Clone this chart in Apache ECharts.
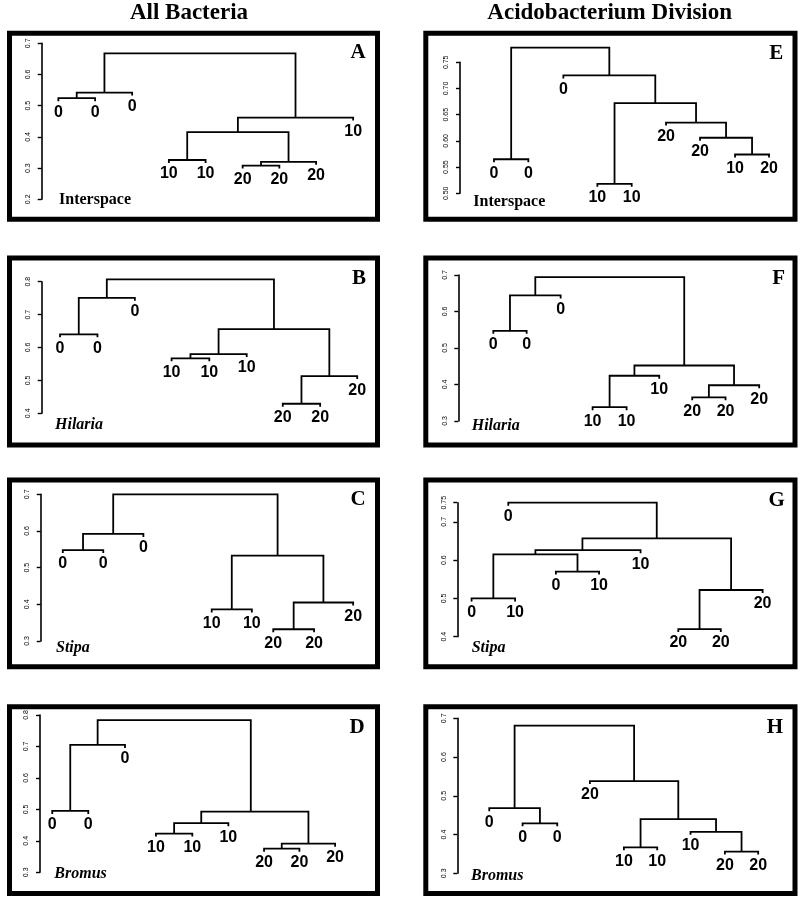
<!DOCTYPE html>
<html>
<head>
<meta charset="utf-8">
<title>Dendrograms</title>
<script src="https://cdn.jsdelivr.net/npm/echarts@6/dist/echarts.min.js"></script>
<style>
    html, body { margin: 0; padding: 0; background: #fff; }
    #main { width: 800px; height: 901px; }
</style>
</head>
<body>
<div id="main"></div>
<script>
// leaf labels, leaf positions (in leaf slots), merges [child1, child2, height, (x)]
// negative child = leaf number, positive child = earlier merge number
var leafNamesA = ['0', '0', '0', '10', '10', '20', '20', '20', '10'];
var leafPosA = [0.49, 1.57, 2.66, 3.74, 4.82, 5.91, 6.99, 8.07, 9.16];
var mergeA = [[-1, -2, 0.524], [1, -3, 0.542], [-4, -5, 0.326], [-6, -7, 0.308], [4, -8, 0.320], [3, 5, 0.415], [6, -9, 0.462], [2, 7, 0.668]];
var ticksA = [0.2, 0.3, 0.4, 0.5, 0.6, 0.7];

var leafNamesB = ['0', '0', '0', '10', '10', '10', '20', '20', '20'];
var leafPosB = [0.54, 1.64, 2.74, 3.82, 4.93, 6.03, 7.09, 8.19, 9.28];
var mergeB = [[-1, -2, 0.640], [1, -3, 0.751], [-4, -5, 0.567], [3, -6, 0.580], [-7, -8, 0.429], [5, -9, 0.513], [4, 6, 0.656], [2, 7, 0.807]];
var ticksB = [0.4, 0.5, 0.6, 0.7, 0.8];

var leafNamesC = ['0', '0', '0', '10', '10', '20', '20', '20'];
var leafPosC = [0.65, 1.84, 3.02, 5.03, 6.21, 6.84, 8.04, 9.19];
var mergeC = [[-1, -2, 0.548], [1, -3, 0.592], [-4, -5, 0.386], [-6, -7, 0.332], [4, -8, 0.405], [3, 5, 0.533], [2, 6, 0.700]];
var ticksC = [0.3, 0.4, 0.5, 0.6, 0.7];

var leafNamesD = ['0', '0', '0', '10', '10', '10', '20', '20', '20'];
var leafPosD = [0.36, 1.42, 2.50, 3.41, 4.48, 5.54, 6.59, 7.63, 8.68];
var mergeD = [[-1, -2, 0.495], [1, -3, 0.705], [-4, -5, 0.423], [3, -6, 0.456], [-7, -8, 0.375], [5, -9, 0.391], [4, 6, 0.493, 6.20], [2, 7, 0.784]];
var ticksD = [0.3, 0.4, 0.5, 0.6, 0.7, 0.8];

var leafNamesE = ['0', '0', '0', '10', '10', '20', '20', '10', '20'];
var leafPosE = [1.00, 2.01, 3.04, 4.04, 5.05, 6.06, 7.06, 8.09, 9.09];
var mergeE = [[-1, -2, 0.565], [-4, -5, 0.518], [-8, -9, 0.574], [-7, 3, 0.606], [-6, 4, 0.635], [2, 5, 0.672], [-3, 6, 0.725], [1, 7, 0.778]];
var ticksE = [0.50, 0.55, 0.60, 0.65, 0.70, 0.75];

var leafNamesF = ['0', '0', '0', '10', '10', '10', '20', '20', '20'];
var leafPosF = [1.03, 2.01, 3.01, 3.95, 4.95, 5.91, 6.88, 7.86, 8.85];
var mergeF = [[-1, -2, 0.547], [1, -3, 0.644], [-4, -5, 0.338], [3, -6, 0.424], [-7, -8, 0.365], [5, -9, 0.398], [4, 6, 0.452], [2, 7, 0.694]];
var ticksF = [0.3, 0.4, 0.5, 0.6, 0.7];

var leafNamesG = ['0', '0', '10', '0', '10', '10', '20', '20', '20'];
var leafPosG = [0.42, 1.50, 1.70, 2.90, 4.17, 5.39, 6.50, 7.75, 8.98];
var mergeG = [[-1, -3, 0.500], [-4, -5, 0.570], [1, 2, 0.615], [3, -6, 0.626, 3.68], [-7, -8, 0.420], [5, -9, 0.522], [4, 6, 0.657], [-2, 7, 0.750]];
var ticksG = [0.4, 0.5, 0.6, 0.7, 0.75];

var leafNamesH = ['0', '0', '0', '20', '10', '10', '10', '20', '20'];
var leafPosH = [0.94, 1.92, 2.94, 3.90, 4.90, 5.88, 6.86, 7.87, 8.85];
var mergeH = [[-2, -3, 0.429], [-1, 1, 0.468], [-5, -6, 0.367], [-8, -9, 0.356], [-7, 4, 0.407], [3, 5, 0.440], [-4, 6, 0.538], [2, 7, 0.681]];
var ticksH = [0.3, 0.4, 0.5, 0.6, 0.7];

var columnTitles = ['All Bacteria', 'Acidobacterium Division'];

(function () {
    var LEFT_FRAME = 9.5, RIGHT_FRAME = 425.8;
    var rows = [[33.3, 219.2], [258, 445], [480, 666.7], [706.7, 893.4]];

    var panels = [
        {letter: 'A', site: 'Interspace', names: leafNamesA, pos: leafPosA, merges: mergeA, ticks: ticksA,
            axisX: 41.7, top: 43.3, bottom: 199.3, letterXY: [358, 53], siteXY: [59, 199.5], row: 0, col: 0},
        {letter: 'B', site: 'Hilaria', names: leafNamesB, pos: leafPosB, merges: mergeB, ticks: ticksB,
            axisX: 41.7, top: 281.7, bottom: 413.3, letterXY: [359, 278.3], siteXY: [55, 425], row: 1, col: 0},
        {letter: 'C', site: 'Stipa', names: leafNamesC, pos: leafPosC, merges: mergeC, ticks: ticksC,
            axisX: 40.7, top: 494.3, bottom: 641, letterXY: [358, 500], siteXY: [56, 647.7], row: 2, col: 0},
        {letter: 'D', site: 'Bromus', names: leafNamesD, pos: leafPosD, merges: mergeD, ticks: ticksD,
            axisX: 40, top: 715, bottom: 872.3, letterXY: [357, 727.7], siteXY: [54.3, 874.3], row: 3, col: 0},
        {letter: 'E', site: 'Interspace', names: leafNamesE, pos: leafPosE, merges: mergeE, ticks: ticksE, fixed: true,
            axisX: 460, top: 62.3, bottom: 193.3, letterXY: [776.3, 53.3], siteXY: [473.3, 201.7], row: 0, col: 1},
        {letter: 'F', site: 'Hilaria', names: leafNamesF, pos: leafPosF, merges: mergeF, ticks: ticksF,
            axisX: 458.3, top: 275, bottom: 421, letterXY: [778.7, 278.3], siteXY: [471.7, 426], row: 1, col: 1},
        {letter: 'G', site: 'Stipa', names: leafNamesG, pos: leafPosG, merges: mergeG, ticks: ticksG,
            axisX: 457.3, top: 502.7, bottom: 636.7, letterXY: [776.7, 501], siteXY: [471.7, 647.7], row: 2, col: 1},
        {letter: 'H', site: 'Bromus', names: leafNamesH, pos: leafPosH, merges: mergeH, ticks: ticksH,
            axisX: 457.3, top: 718.3, bottom: 873.3, letterXY: [775, 727.7], siteXY: [471, 875.7], row: 3, col: 1}
    ];

    function buildTree(pos, merges, hang) {
        var mx = [], mh = [], segs = [], ends = [];
        function cx(c) { return c < 0 ? pos[-c - 1] : mx[c - 1]; }
        merges.forEach(function (m) {
            var x1 = cx(m[0]), x2 = cx(m[1]);
            var h1 = m[0] < 0 ? m[2] - hang : mh[m[0] - 1];
            var h2 = m[1] < 0 ? m[2] - hang : mh[m[1] - 1];
            if (m[0] < 0) ends[-m[0] - 1] = h1;
            if (m[1] < 0) ends[-m[1] - 1] = h2;
            mx.push(m[3] != null ? m[3] : (x1 + x2) / 2);
            mh.push(m[2]);
            segs.push([x1, h1, x2, h2, m[2]]);
        });
        return {segs: segs, ends: ends};
    }

    var grids = [], xAxes = [], yAxes = [], series = [], graphics = [];

    panels.forEach(function (p, i) {
        var min = p.ticks[0], max = p.ticks[p.ticks.length - 1];
        var hang = 3 * (max - min) / (p.bottom - p.top);
        var tree = buildTree(p.pos, p.merges, hang);

        grids.push({left: p.axisX, top: p.top, width: 340, height: p.bottom - p.top, outerBoundsMode: 'none'});
        xAxes.push({type: 'value', gridIndex: i, min: 0, max: 10, show: false});
        yAxes.push({
            type: 'value', gridIndex: i, min: min, max: max,
            axisLine: {show: true, lineStyle: {color: '#000', width: 1.6}},
            axisTick: {show: true, length: 4, customValues: p.ticks, lineStyle: {color: '#000', width: 1.4}},
            axisLabel: {
                rotate: 90, fontSize: 7, margin: 10, color: '#000', fontFamily: '"Liberation Sans", Arial, sans-serif',
                customValues: p.ticks,
                formatter: function (v) { return p.fixed ? v.toFixed(2) : String(+v.toFixed(2)); }
            },
            splitLine: {show: false}
        });

        series.push({
            type: 'custom', xAxisIndex: i, yAxisIndex: i, clip: false, silent: true,
            data: tree.segs,
            renderItem: function (params, api) {
                var a = api.coord([api.value(0), api.value(1)]);
                var b = api.coord([api.value(0), api.value(4)]);
                var c = api.coord([api.value(2), api.value(4)]);
                var d = api.coord([api.value(2), api.value(3)]);
                return {
                    type: 'polyline',
                    shape: {points: [a, b, c, d]},
                    style: {stroke: '#000', lineWidth: 1.8, fill: null, lineJoin: 'miter'}
                };
            }
        });

        series.push({
            type: 'custom', xAxisIndex: i, yAxisIndex: i, clip: false, silent: true,
            data: p.pos.map(function (x, k) { return [x, tree.ends[k]]; }),
            renderItem: function (params, api) {
                var pt = api.coord([api.value(0), api.value(1)]);
                return {
                    type: 'text', x: pt[0], y: pt[1] + 11,
                    style: {
                        text: p.names[params.dataIndex],
                        font: 'bold 16px "Liberation Sans", Arial, sans-serif',
                        fill: '#000', align: 'center', verticalAlign: 'middle',
                        textAlign: 'center', textVerticalAlign: 'middle'
                    }
                };
            }
        });

        var fx = p.col === 0 ? LEFT_FRAME : RIGHT_FRAME;
        var fw = p.col === 0 ? 368 : 369.2;
        var r = rows[p.row];
        graphics.push({
            type: 'rect', z: 0, silent: true,
            shape: {x: fx, y: r[0], width: fw, height: r[1] - r[0]},
            style: {fill: null, stroke: '#000', lineWidth: 5}
        });
        graphics.push({
            type: 'text', x: p.letterXY[0], y: p.letterXY[1], silent: true,
            style: {
                text: p.letter, font: 'bold 21px "Liberation Serif", "Times New Roman", serif', fill: '#000',
                align: 'center', verticalAlign: 'middle', textAlign: 'center', textVerticalAlign: 'middle'
            }
        });
        graphics.push({
            type: 'text', x: p.siteXY[0], y: p.siteXY[1], silent: true,
            style: {
                text: p.site,
                font: (p.site === 'Interspace' ? 'bold ' : 'italic bold ') + '16px "Liberation Serif", "Times New Roman", serif',
                fill: '#000', align: 'left', verticalAlign: 'middle', textAlign: 'left', textVerticalAlign: 'middle'
            }
        });
    });

    graphics.push({
        type: 'text', x: 189, y: 13.5, silent: true,
        style: {
            text: columnTitles[0], font: 'bold 23px "Liberation Serif", "Times New Roman", serif', fill: '#000',
            align: 'center', verticalAlign: 'middle', textAlign: 'center', textVerticalAlign: 'middle'
        }
    });
    graphics.push({
        type: 'text', x: 609.7, y: 13.5, silent: true,
        style: {
            text: columnTitles[1], font: 'bold 23px "Liberation Serif", "Times New Roman", serif', fill: '#000',
            align: 'center', verticalAlign: 'middle', textAlign: 'center', textVerticalAlign: 'middle'
        }
    });

    var chart = echarts.init(document.getElementById('main'), null, {renderer: 'canvas'});
    chart.setOption({
        backgroundColor: '#fff',
        animation: false,
        grid: grids,
        xAxis: xAxes,
        yAxis: yAxes,
        series: series,
        graphic: graphics
    });
})();
</script>
</body>
</html>
